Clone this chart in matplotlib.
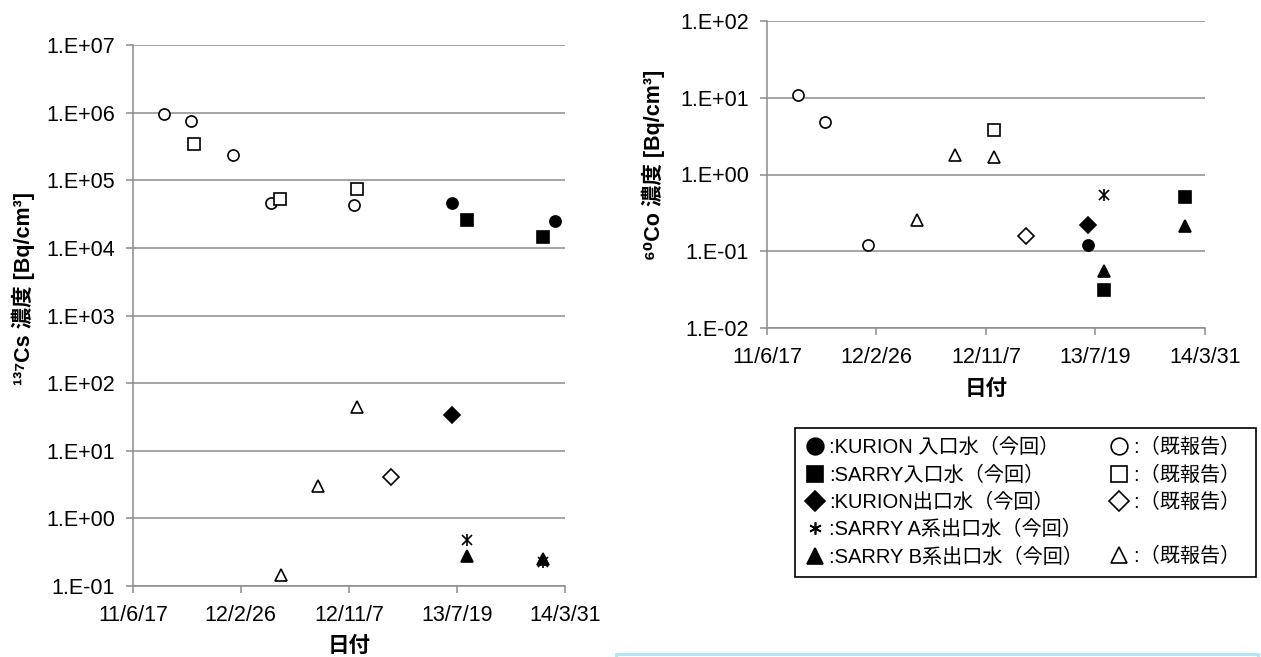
# Cs-137 / Co-60 concentration at KURION / SARRY (scatter, log scale)

import numpy as np
import matplotlib
matplotlib.use('Agg')
import matplotlib.pyplot as plt
from matplotlib.lines import Line2D
from matplotlib.patches import Rectangle

FONTS = ['Liberation Sans', 'DejaVu Sans', 'Noto Sans CJK JP']
plt.rcParams['font.family'] = FONTS

# x axis
x_ticks = ['2011-06-17', '2012-02-26', '2012-11-07', '2013-07-19', '2014-03-31']
x_tick_labels = ['11/6/17', '12/2/26', '12/11/7', '13/7/19', '14/3/31']

# 137Cs  [Bq/cm3]
cs_kurion_in_new_d = ['2013-07-07', '2014-03-08']
cs_kurion_in_new_v = [4.6e4, 2.5e4]
cs_kurion_in_old_d = ['2011-08-30', '2011-10-31', '2012-02-07', '2012-05-08', '2012-11-19']
cs_kurion_in_old_v = [9.6e5, 7.4e5, 2.4e5, 4.6e4, 4.3e4]
cs_sarry_in_new_d = ['2013-08-11', '2014-02-08']
cs_sarry_in_new_v = [2.6e4, 1.47e4]
cs_sarry_in_old_d = ['2011-11-08', '2012-05-29', '2012-11-26']
cs_sarry_in_old_v = [3.4e5, 5.2e4, 7.4e4]
cs_kurion_out_new_d = ['2013-07-07']
cs_kurion_out_new_v = [34]
cs_kurion_out_old_d = ['2013-02-13']
cs_kurion_out_old_v = [4.1]
cs_sarry_a_new_d = ['2013-08-11', '2014-02-08']
cs_sarry_a_new_v = [0.48, 0.23]
cs_sarry_b_new_d = ['2013-08-11', '2014-02-08']
cs_sarry_b_new_v = [0.28, 0.25]
cs_sarry_b_old_d = ['2012-05-31', '2012-08-27', '2012-11-26']
cs_sarry_b_old_v = [0.147, 3.0, 45]

# 60Co  [Bq/cm3]
co_kurion_in_new_d = ['2013-07-03']
co_kurion_in_new_v = [0.12]
co_kurion_in_old_d = ['2011-08-29', '2011-10-30', '2012-02-07']
co_kurion_in_old_v = [11, 4.9, 0.12]
co_sarry_in_new_d = ['2013-08-09', '2014-02-12']
co_sarry_in_new_v = [0.0315, 0.515]
co_sarry_in_old_d = ['2012-11-26']
co_sarry_in_old_v = [3.8]
co_kurion_out_new_d = ['2013-07-03']
co_kurion_out_new_v = [0.218]
co_kurion_out_old_d = ['2013-02-09']
co_kurion_out_old_v = [0.16]
co_sarry_a_new_d = ['2013-08-09']
co_sarry_a_new_v = [0.54]
co_sarry_b_new_d = ['2013-08-09', '2014-02-12']
co_sarry_b_new_v = [0.0546, 0.216]
co_sarry_b_old_d = ['2012-05-31', '2012-08-27', '2012-11-26']
co_sarry_b_old_v = [0.256, 1.8, 1.7]

legend_left = [':KURION 入口水（今回）', ':SARRY入口水（今回）', ':KURION出口水（今回）',
               ':SARRY A系出口水（今回）', ':SARRY B系出口水（今回）']
legend_right = [':（既報告）', ':（既報告）', ':（既報告）', ' ', ':（既報告）']

GRID = '#8c8c8c'
MS = 8


def d(lst):
    return [np.datetime64(s) for s in lst]


def draw(ax, series, ylim, ylab, ylab_pos, xlab_y):
    # series: list of (dates, values, marker, filled)
    for dates, vals, mk, filled in series:
        if mk == 'ast':
            ax.plot(d(dates), vals, 'x', color='black', ms=MS - 1, mew=1.2, zorder=3)
            ax.plot(d(dates), vals, '|', color='black', ms=MS, mew=1.2, zorder=3)
        else:
            ax.plot(d(dates), vals, mk, ls='none', ms=MS, mew=1.2, mec='black',
                    mfc='black' if filled else 'white', zorder=3)
    ax.set_yscale('log')
    ax.set_ylim(*ylim)
    ax.set_xlim(np.datetime64(x_ticks[0]), np.datetime64(x_ticks[-1]))
    ax.set_xticks(d(x_ticks))
    ax.set_xticklabels(x_tick_labels)
    decs = np.arange(np.log10(ylim[0]), np.log10(ylim[1]) + 1).astype(int)
    ax.set_yticks(10.0 ** decs)
    ax.set_yticklabels(['1.E-%02d' % -e if e < 0 else '1.E+%02d' % e for e in decs])
    ax.yaxis.set_minor_locator(matplotlib.ticker.NullLocator())
    ax.grid(axis='y', color=GRID, lw=1.1)
    ax.set_axisbelow(True)
    for s in ['top', 'right']:
        ax.spines[s].set_visible(False)
    for s in ['left', 'bottom']:
        ax.spines[s].set_color(GRID)
        ax.spines[s].set_linewidth(1.1)
    ax.tick_params(axis='both', direction='out', length=5, width=1.1, color=GRID,
                   labelsize=15.5, labelcolor='black')
    ax.tick_params(axis='y', pad=8)
    ax.tick_params(axis='x', pad=9)
    ax.set_ylabel(ylab, fontsize=15.5, fontweight='bold', family=FONTS)
    ax.yaxis.set_label_coords(*ylab_pos)
    ax.set_xlabel('日付', fontsize=15.5, fontweight='bold')
    ax.xaxis.set_label_coords(0.5, xlab_y)


fig = plt.figure(figsize=(12.61, 6.57), dpi=100)
ax1 = fig.add_axes([133 / 1261, 1 - 586 / 657, 432 / 1261, 541 / 657])
ax2 = fig.add_axes([767 / 1261, 1 - 328 / 657, 438 / 1261, 307 / 657])

draw(ax1, [
    (cs_kurion_in_old_d, cs_kurion_in_old_v, 'o', False),
    (cs_sarry_in_old_d, cs_sarry_in_old_v, 's', False),
    (cs_kurion_out_old_d, cs_kurion_out_old_v, 'D', False),
    (cs_sarry_b_old_d, cs_sarry_b_old_v, '^', False),
    (cs_kurion_in_new_d, cs_kurion_in_new_v, 'o', True),
    (cs_sarry_in_new_d, cs_sarry_in_new_v, 's', True),
    (cs_kurion_out_new_d, cs_kurion_out_new_v, 'D', True),
    (cs_sarry_a_new_d, cs_sarry_a_new_v, 'ast', True),
    (cs_sarry_b_new_d, cs_sarry_b_new_v, '^', True),
], (1e-1, 1e7), '¹³⁷Cs 濃度 [Bq/cm³]', (-0.227, 0.549), -0.092)

draw(ax2, [
    (co_kurion_in_old_d, co_kurion_in_old_v, 'o', False),
    (co_sarry_in_old_d, co_sarry_in_old_v, 's', False),
    (co_kurion_out_old_d, co_kurion_out_old_v, 'D', False),
    (co_sarry_b_old_d, co_sarry_b_old_v, '^', False),
    (co_kurion_in_new_d, co_kurion_in_new_v, 'o', True),
    (co_sarry_in_new_d, co_sarry_in_new_v, 's', True),
    (co_kurion_out_new_d, co_kurion_out_new_v, 'D', True),
    (co_sarry_a_new_d, co_sarry_a_new_v, 'ast', True),
    (co_sarry_b_new_d, co_sarry_b_new_v, '^', True),
], (1e-2, 1e2), '⁶⁰Co 濃度 [Bq/cm³]', (-0.233, 0.531), -0.166)

# legend box
def h(mk, filled, ms=12):
    return Line2D([], [], marker=mk, ls='none', color='black', ms=ms, mew=1.2,
                  mfc='black' if filled else 'white')

handles = [h('o', True), h('s', True), h('D', True, 10), h((6, 2, 0), True, 9), h('^', True),
           h('o', False), h('s', False), h('D', False, 10), h('none', False), h('^', False)]
labels = legend_left + [s + ' ' for s in legend_right]
leg = fig.legend(handles, labels, ncol=2, loc='upper left',
                 bbox_to_anchor=(795 / 1261, 1 - 428 / 657), fontsize=14.5,
                 frameon=True, fancybox=False, edgecolor='black', framealpha=1,
                 handlelength=1.0, handletextpad=0.2, columnspacing=1.3,
                 labelspacing=0.4, borderpad=0.5, borderaxespad=0)
leg.get_frame().set_linewidth(1.2)

# light blue frame at the bottom edge
fig.patches.append(Rectangle((616 / 1261, -0.02), (1258 - 616) / 1261, 0.02 + 3 / 657,
                             transform=fig.transFigure, fill=False,
                             edgecolor='#aee6f7', lw=2))

fig.savefig('out.png', dpi=100)
